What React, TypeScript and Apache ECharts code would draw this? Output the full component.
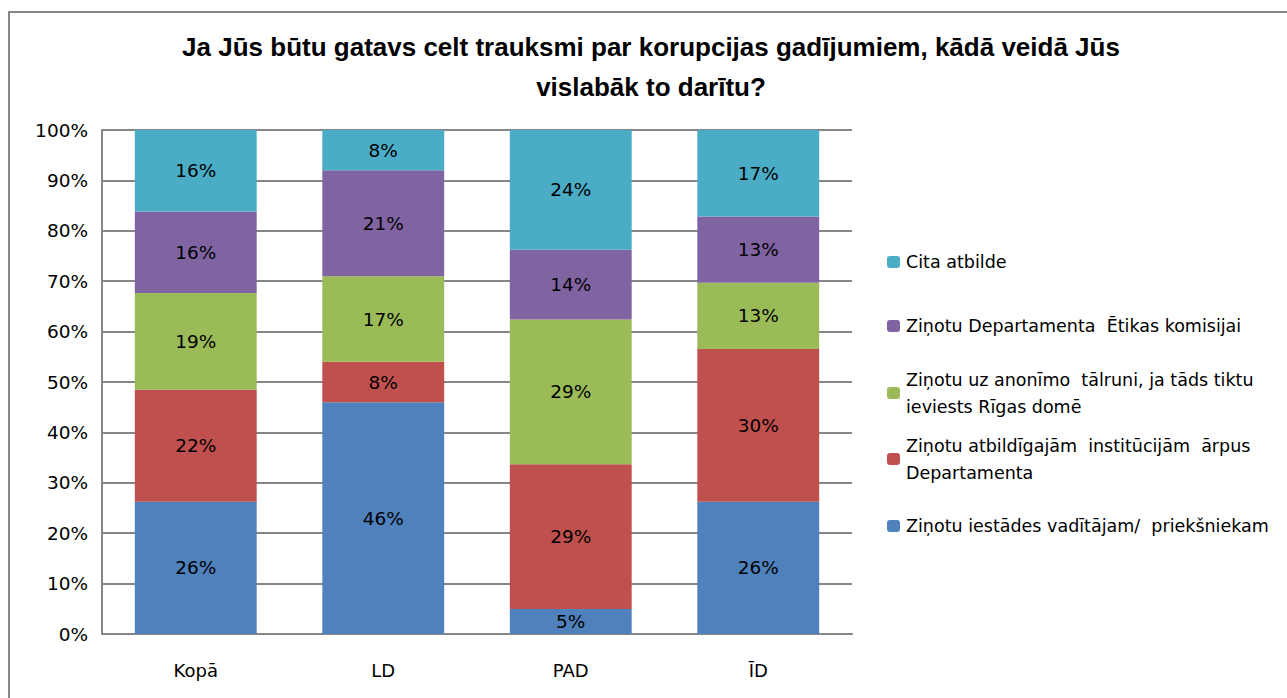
import React, { useEffect, useRef } from "react";
import * as echarts from "echarts";

const categories = ["Kopā", "LD", "PAD", "ĪD"];
const seriesNames = [
  "Ziņotu iestādes vadītājam/  priekšniekam",
  "Ziņotu atbildīgajām  institūcijām  ārpus\nDepartamenta",
  "Ziņotu uz anonīmo  tālruni, ja tāds tiktu\nieviests Rīgas domē",
  "Ziņotu Departamenta  Ētikas komisijai",
  "Cita atbilde",
];
const vaditajam = [26, 46, 5, 26];
const arpus = [22, 8, 29, 30];
const talrunis = [19, 17, 29, 13];
const etikas = [16, 21, 14, 13];
const cita = [16, 8, 24, 17];
const yTicks = [0, 10, 20, 30, 40, 50, 60, 70, 80, 90, 100];
const colors = ["#4F81BD", "#C0504D", "#9BBB59", "#8064A2", "#4BACC6"];
const titleLines = [
  "Ja Jūs būtu gatavs celt trauksmi par korupcijas gadījumiem, kādā veidā Jūs",
  "vislabāk to darītu?",
];

const FONT = "DejaVu Sans";

export default function App() {
  const ref = useRef<HTMLDivElement>(null);
  useEffect(() => {
    if (!ref.current) return;
    const chart = echarts.init(ref.current, null, { renderer: "svg" });
    const raw = [vaditajam, arpus, talrunis, etikas, cita];
    const totals = categories.map((_, i) => raw.reduce((s, a) => s + a[i], 0));
    const series = raw.map((arr, k) => ({
      name: seriesNames[k],
      type: "bar",
      stack: "total",
      barCategoryGap: "35%",
      itemStyle: { color: colors[k] },
      label: {
        show: true,
        position: "inside",
        color: "#000",
        fontFamily: FONT,
        fontSize: 18.5,
        formatter: (p: any) => arr[p.dataIndex] + "%",
      },
      data: arr.map((v, i) => (v / totals[i]) * 100),
    }));
    const legendTops = [
      { idx: 4, center: 262, lines: 1 },
      { idx: 3, center: 326, lines: 1 },
      { idx: 2, center: 393, lines: 2 },
      { idx: 1, center: 459, lines: 2 },
      { idx: 0, center: 526, lines: 1 },
    ];
    const legends = legendTops.map((l) => ({
      data: [seriesNames[l.idx]],
      orient: "vertical",
      left: 887,
      top: l.lines === 1 ? l.center - 13.5 : l.center - 40.5,
      itemWidth: 13,
      itemHeight: 12,
      itemGap: 0,
      padding: 0,
      selectedMode: false,
      textStyle: {
        fontFamily: FONT,
        fontSize: 17.5,
        color: "#000",
        lineHeight: 27,
        padding: l.lines === 1 ? [0, 0, 0, 1] : [27, 0, 0, 1],
      },
    }));
    chart.setOption({
      animation: false,
      backgroundColor: "#fff",
      grid: { left: 102, right: 435, top: 130, bottom: 64 },
      legend: legends,
      xAxis: {
        type: "category",
        data: categories,
        axisLine: { show: true, lineStyle: { color: "#868686", width: 2 } },
        axisTick: { show: false },
        axisLabel: { color: "#000", fontFamily: FONT, fontSize: 18, margin: 27 },
      },
      yAxis: {
        type: "value",
        min: 0,
        max: 100,
        interval: 10,
        axisLine: { show: true, lineStyle: { color: "#868686", width: 2 } },
        axisTick: { show: false },
        splitLine: { show: true, lineStyle: { color: "#868686", width: 2 } },
        axisLabel: {
          color: "#000",
          fontFamily: FONT,
          fontSize: 18.5,
          margin: 14,
          formatter: (v: number) => (yTicks.includes(v) ? v + "%" : ""),
        },
      },
      graphic: [
        {
          type: "rect",
          shape: { x: 9, y: 12, width: 1300, height: 700 },
          style: { fill: "none", stroke: "#868686", lineWidth: 2 },
          silent: true,
        },
        {
          type: "text",
          x: 651,
          y: 47,
          style: {
            text: titleLines[0],
            fontFamily: "Liberation Sans",
            fontWeight: "bold",
            fontSize: 26,
            fill: "#000",
            textAlign: "center",
            textVerticalAlign: "middle",
          },
        },
        {
          type: "text",
          x: 651,
          y: 87,
          style: {
            text: titleLines[1],
            fontFamily: "Liberation Sans",
            fontWeight: "bold",
            fontSize: 26,
            fill: "#000",
            textAlign: "center",
            textVerticalAlign: "middle",
          },
        },
      ],
      series,
    });
    return () => chart.dispose();
  }, []);
  return (
    <div
      ref={ref}
      style={{ position: "fixed", left: 0, top: 0, width: 1287, height: 698, background: "#fff" }}
    />
  );
}
